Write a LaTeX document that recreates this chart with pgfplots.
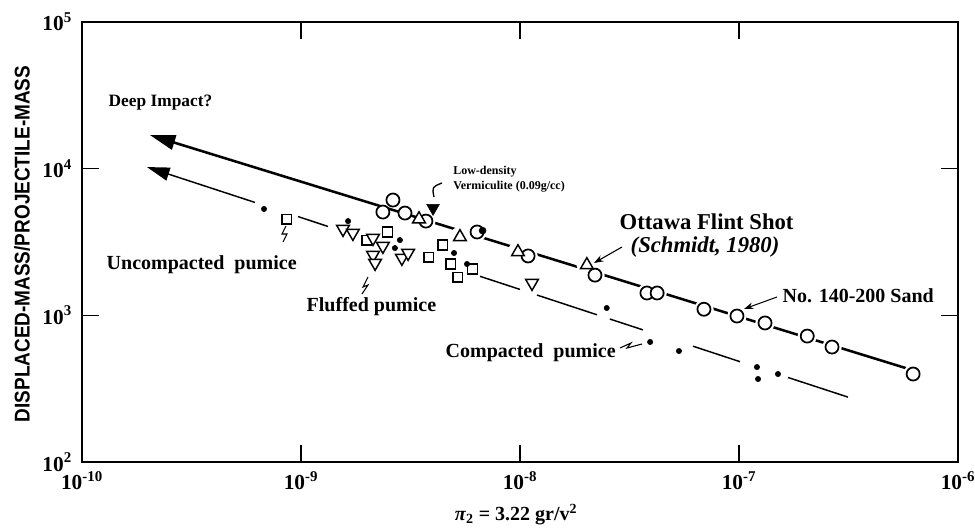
\documentclass[border=0pt]{standalone}
\usepackage{fontspec}
\setmainfont{Liberation Serif}
\setsansfont{Liberation Sans}
\usepackage{pgfplots}
\pgfplotsset{compat=1.18}
\usetikzlibrary{arrows.meta}

\newcommand{\fs}[1]{\fontsize{#1}{#1}\selectfont\bfseries}

\pgfplotsset{
  seg/.style={line width=1.1pt},
  halo/.style={only marks, mark=*, mark size=#1, mark options={fill=white, draw=white}},
  sand/.style={only marks, mark=*, mark size=4.9pt, mark options={line width=1.3pt, fill=white, draw=black}},
  tri/.style={only marks, mark=triangle*, mark size=5.5pt, mark options={line width=1.1pt, fill=white, draw=black}},
  dtri/.style={only marks, mark=triangle*, mark size=5.5pt, mark options={line width=1.1pt, fill=white, draw=black, rotate=180}},
  sq/.style={only marks, mark=square*, mark size=3.7pt, mark options={line width=0.9pt, fill=white, draw=black}},
  dot/.style={only marks, mark=*, mark size=2pt, mark options={fill=black}},
}

\begin{document}
\begin{tikzpicture}
\begin{axis}[name=ax,
  xmode=log, ymode=log,
  xmin=1e-10, xmax=1e-6, ymin=100, ymax=1e5,
  scale only axis, width=657pt, height=330pt,
  axis line style={line width=2.2pt},
  xtick={1e-10,1e-9,1e-8,1e-7,1e-6},
  xticklabels={10\textsuperscript{-10},10\textsuperscript{-9},10\textsuperscript{-8},10\textsuperscript{-7},10\textsuperscript{-6}},
  ytick={1e2,1e3,1e4,1e5},
  yticklabels={10\textsuperscript{2},10\textsuperscript{3},10\textsuperscript{4},10\textsuperscript{5}},
  xminorticks=false, yminorticks=false,
  major tick length=13pt,
  tick style={line width=0.9pt, black},
  tick label style={font=\fs{16}},
  xticklabel style={yshift=-3.5pt},
  yticklabel style={xshift=-4pt},
  clip=false]

% fitted trend lines
\addplot[line width=1.9pt, -{Triangle[length=19pt,width=11pt]}]
  coordinates {(6.04e-7,428) (2.044e-10,16940)};
\addplot[seg, -{Triangle[length=17pt,width=10pt]}]
  coordinates {(6.166e-10,5885) (1.981e-10,10254)};
\addplot[seg] coordinates {(9.69e-10,4716) (1.328e-9,4036)};
\addplot[seg] coordinates {(6.570e-9,1845) (1.0e-8,1502)};
\addplot[seg] coordinates {(1.196e-8,1375) (2.246e-8,1009)};
\addplot[seg] coordinates {(2.576e-8,943) (3.644e-8,796)};
\addplot[seg] coordinates {(6.166e-8,616) (1.011e-7,483)};
\addplot[seg] coordinates {(1.674e-7,377) (3.146e-7,277)};

% white gaps cut into the sand line around its points
\addplot[halo=7pt] coordinates {
  (1.089e-8,2540) (2.20e-8,1880) (3.80e-8,1420) (4.23e-8,1420)
  (6.92e-8,1100) (9.79e-8,989) (1.315e-7,887) (2.05e-7,722)
  (2.66e-7,608) (6.24e-7,398) (6.37e-9,3700) (3.72e-9,4390)};
\addplot[halo=7.5pt] coordinates {
  (5.32e-9,3420) (9.79e-9,2700) (2.02e-8,2203)};

% uncompacted / fluffed pumice (squares)
\addplot[sq] coordinates {
  (8.63e-10,4530) (2.0e-9,3260) (2.49e-9,3700) (3.84e-9,2497)
  (4.45e-9,3015) (4.84e-9,2238) (5.21e-9,1824) (6.09e-9,2069)};

% fluffed pumice (open down triangles)
\addplot[dtri] coordinates {
  (1.556e-9,3875) (1.726e-9,3640) (2.133e-9,3365) (2.366e-9,2968)
  (2.133e-9,2577) (2.18e-9,2274) (2.89e-9,2460) (3.085e-9,2660)
  (1.135e-8,1660)};

% compacted pumice (dots)
\addplot[dot] coordinates {
  (6.78e-10,5310) (1.641e-9,4390) (2.83e-9,3260) (2.685e-9,2875)
  (5.00e-9,2660) (5.73e-9,2238) (2.49e-8,1122) (3.93e-8,658)
  (5.32e-8,571) (1.208e-7,444) (1.222e-7,368) (1.507e-7,398)};

% No. 140-200 sand (open circles)
\addplot[sand] coordinates {
  (2.366e-9,5060) (2.63e-9,6110) (2.985e-9,4980) (3.72e-9,4390)
  (6.37e-9,3700) (1.089e-8,2540) (2.20e-8,1880) (3.80e-8,1420)
  (4.23e-8,1420) (6.92e-8,1100) (9.79e-8,989) (1.315e-7,887)
  (2.05e-7,722) (2.66e-7,608) (6.24e-7,398)};
\addplot[dot, mark size=2.6pt] coordinates {(6.75e-9,3780)};

% Ottawa flint shot (open up triangles)
\addplot[tri] coordinates {
  (3.46e-9,4530) (5.32e-9,3420) (9.79e-9,2700) (2.02e-8,2203)};

% low-density vermiculite
\addplot[only marks, mark=triangle*, mark size=5.5pt,
  mark options={fill=black, rotate=180}] coordinates {(4.01e-9,5390)};
\end{axis}

\begin{scope}[x=0.75pt, y=-0.75pt, shift={(ax.north west)}, shift={(-82,-22)}]
  \node[anchor=west, font=\fs{13}] at (104,103) {Deep Impact?};
  \node[anchor=west, font=\fs{15}] at (102,265) {Uncompacted\hspace{0.5em}pumice};
  \node[anchor=west, font=\fs{15}] at (302,307) {Fluffed pumice};
  \node[anchor=west, font=\fs{15}] at (441,353) {Compacted\hspace{0.5em}pumice};
  \node[anchor=west, font=\fs{17}] at (615,222) {Ottawa Flint Shot};
  \node[anchor=west, font=\fs{17}\itshape] at (626,247) {(Schmidt, 1980)};
  \node[anchor=west, font=\fs{15}] at (778,296) {No. 140-200 Sand};
  \node[anchor=north west, align=left, inner sep=0pt,
        font=\fontsize{9}{11.5}\selectfont\bfseries] at (453,166)
        {Low-density\\Vermiculite (0.09g/cc)};
  \node[font=\fs{15}] at (516,515) {\textit{π}\textsubscript{2} = 3.22 gr/v\textsuperscript{2}};
  \node[rotate=90] at (22,244)
    {\scalebox{0.89}[1]{\sffamily\fs{16}DISPLACED-MASS/PROJECTILE-MASS}};

  % pointer arrows
  \draw[line width=0.8pt, -{Stealth[length=7pt,width=5pt]}] (622,247) -- (594,263);
  \draw[line width=0.8pt, -{Stealth[length=7pt,width=5pt]}] (777,297) -- (744,309);

  % zigzag leaders
  \draw[line width=0.8pt] (286,226) -- (282,234) -- (287,234) -- (283,242);
  \draw[line width=0.8pt] (368,277) -- (363,287) -- (368,285) -- (362,294);
  \draw[line width=0.8pt] (620,348) -- (631,343) -- (627,348) -- (642,344);
  \draw[line width=1pt] (434,197) .. controls (432,187) .. (442,183);

  \pgfresetboundingbox
  \path (0,0) rectangle (975,532);
\end{scope}
\end{tikzpicture}
\end{document}
